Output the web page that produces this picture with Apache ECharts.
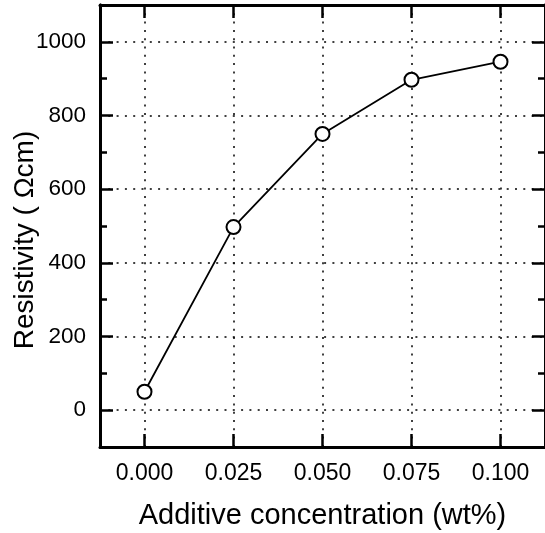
<!DOCTYPE html>
<html>
<head>
<meta charset="utf-8">
<script src="https://cdn.jsdelivr.net/npm/echarts@6/dist/echarts.min.js"></script>
<style>
html,body{margin:0;padding:0;background:#fff;}
#chart{width:545px;height:533px;}
</style>
</head>
<body>
<div id="chart"></div>
<script>
// Data
const concentration = [0.000, 0.025, 0.050, 0.075, 0.100];
const resistivity = [50, 497, 750, 897, 946];
const xTickValues = [0.000, 0.025, 0.050, 0.075, 0.100];
const yTickValues = [0, 200, 400, 600, 800, 1000];
const xTitle = 'Additive concentration (wt%)';
const yTitle = 'Resistivity ( \u03A9cm)';

const FONT = 'Liberation Sans, Arial, Helvetica, sans-serif';
const axisLine = { show: true, onZero: false, lineStyle: { color: '#000', width: 3 } };
const gridLine = { show: true, lineStyle: { color: '#000', width: 1.5, type: [2, 6.3] } };
const majorTick = (vals) => ({ show: true, inside: true, length: 13, customValues: vals, lineStyle: { color: '#000', width: 2.5 } });
const minorTick = { show: true, inside: true, length: 7, lineStyle: { color: '#000', width: 2.5 } };

const chart = echarts.init(document.getElementById('chart'), null, { renderer: 'canvas' });
chart.setOption({
  animation: false,
  backgroundColor: '#fff',
  grid: { left: 100, right: 0, top: 5, bottom: 86, containLabel: false, outerBoundsMode: 'none' },
  xAxis: [
    {
      type: 'value', position: 'bottom', min: -0.0125, max: 0.1125,
      axisLine: axisLine,
      axisTick: majorTick(xTickValues),
      axisLabel: { customValues: xTickValues, formatter: v => v.toFixed(3), fontSize: 23, color: '#000', fontFamily: FONT, margin: 15 },
      splitLine: gridLine,
      name: xTitle, nameLocation: 'middle', nameGap: 54, nameMoveOverlap: false,
      nameTextStyle: { fontSize: 29, color: '#000', fontFamily: FONT }
    },
    {
      type: 'value', position: 'top', min: -0.0125, max: 0.1125,
      axisLine: axisLine,
      axisTick: majorTick(xTickValues),
      axisLabel: { show: false },
      splitLine: { show: false }
    }
  ],
  yAxis: [
    {
      type: 'value', position: 'left', min: -100, max: 1100,
      axisLine: axisLine,
      axisTick: majorTick(yTickValues),
      axisLabel: { customValues: yTickValues, formatter: v => String(v), fontSize: 22.5, color: '#000', fontFamily: FONT, margin: 14 },
      splitLine: gridLine,
      name: yTitle, nameLocation: 'middle', nameGap: 61, nameMoveOverlap: false,
      nameTextStyle: { fontSize: 28, color: '#000', fontFamily: FONT, padding: [0, 28, 0, 0] }
    },
    {
      type: 'value', position: 'left', min: -100, max: 1100, interval: 200,
      axisLine: axisLine, axisTick: minorTick,
      axisLabel: { show: false }, splitLine: { show: false }
    },
    {
      type: 'value', position: 'right', min: -100, max: 1100,
      axisLine: axisLine,
      axisTick: majorTick(yTickValues),
      axisLabel: { show: false }, splitLine: { show: false }
    },
    {
      type: 'value', position: 'right', min: -100, max: 1100, interval: 200,
      axisLine: axisLine, axisTick: minorTick,
      axisLabel: { show: false }, splitLine: { show: false }
    }
  ],
  series: [{
    type: 'line',
    xAxisIndex: 0, yAxisIndex: 0,
    data: concentration.map((c, i) => [c, resistivity[i]]),
    lineStyle: { color: '#000', width: 1.8 },
    symbol: 'circle', symbolSize: 14,
    itemStyle: { color: '#fff', borderColor: '#000', borderWidth: 2 },
    z: 5
  }]
});
</script>
</body>
</html>
